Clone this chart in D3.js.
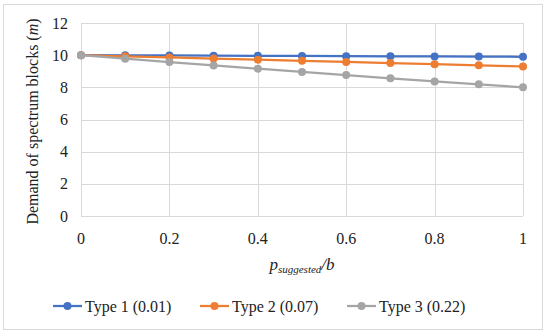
<!DOCTYPE html>
<html lang="en">
<head>
<meta charset="utf-8">
<script src="https://d3js.org/d3.v7.min.js"></script>
<style>
body { margin: 0; background: #fff; }
</style>
</head>
<body>
<div id="chart"></div>
<script>
// data
var xValues = [0, 0.1, 0.2, 0.3, 0.4, 0.5, 0.6, 0.7, 0.8, 0.9, 1];
var type1 = [10, 9.99, 9.98, 9.97, 9.96, 9.95, 9.94, 9.93, 9.92, 9.91, 9.9];
var type2 = [10, 9.93, 9.86, 9.79, 9.72, 9.65, 9.58, 9.51, 9.44, 9.37, 9.3];
var type3 = [10, 9.78, 9.57, 9.36, 9.16, 8.96, 8.76, 8.56, 8.37, 8.19, 8.0];
var seriesNames = ["Type 1 (0.01)", "Type 2 (0.07)", "Type 3 (0.22)"];
var colors = ["#4472C4", "#ED7D31", "#A5A5A5"];
var xTicks = [0, 0.2, 0.4, 0.6, 0.8, 1];
var yTicks = [0, 2, 4, 6, 8, 10, 12];

var width = 550, height = 333;
var serif = "'Liberation Serif', serif";

var svg = d3.select("#chart").append("svg")
  .attr("width", width)
  .attr("height", height);

// chart border
svg.append("rect")
  .attr("x", 3.5).attr("y", 4.5)
  .attr("width", 539).attr("height", 325)
  .attr("fill", "#fff")
  .attr("stroke", "#d9d9d9");

var x = d3.scaleLinear().domain([0, 1]).range([81, 523]);
var y = d3.scaleLinear().domain([0, 12]).range([216, 23]);

// gridlines
svg.append("g").selectAll("line").data(yTicks).enter().append("line")
  .attr("x1", x(0)).attr("x2", x(1))
  .attr("y1", function(d) { return Math.round(y(d)) + 0.5; })
  .attr("y2", function(d) { return Math.round(y(d)) + 0.5; })
  .attr("stroke", "#d9d9d9");

svg.append("g").selectAll("line").data(xTicks).enter().append("line")
  .attr("y1", y(0)).attr("y2", y(12))
  .attr("x1", function(d) { return Math.round(x(d)) + 0.5; })
  .attr("x2", function(d) { return Math.round(x(d)) + 0.5; })
  .attr("stroke", "#d9d9d9");

function txt(sel, size) {
  return sel.attr("fill", "#222")
    .style("font-family", serif, "important")
    .style("font-size", size + "px", "important");
}

// tick labels
txt(svg.append("g").selectAll("text").data(yTicks).enter().append("text")
  .attr("x", 68).attr("y", function(d) { return y(d) + 5.5; })
  .attr("text-anchor", "end"), 16)
  .text(function(d) { return d; });

txt(svg.append("g").selectAll("text").data(xTicks).enter().append("text")
  .attr("x", function(d) { return x(d); }).attr("y", 244)
  .attr("text-anchor", "middle"), 16)
  .text(function(d) { return d; });

// axis titles
var yt = txt(svg.append("text")
  .attr("transform", "translate(38," + (y(6) + 2) + ") rotate(-90)")
  .attr("text-anchor", "middle"), 16);
yt.append("tspan").text("Demand of spectrum blocks (");
yt.append("tspan").style("font-style", "italic").text("m");
yt.append("tspan").text(")");

var xt = txt(svg.append("text")
  .attr("x", 302).attr("y", 270)
  .attr("text-anchor", "middle"), 17)
  .style("font-style", "italic");
xt.append("tspan").text("p");
xt.append("tspan").attr("dy", 3).style("font-size", "11px", "important").text("suggested");
xt.append("tspan").attr("dy", -3).text("/b");

// series
var allSeries = [type1, type2, type3];
var line = d3.line()
  .x(function(d, i) { return x(xValues[i]); })
  .y(function(d) { return y(d); });

allSeries.forEach(function(s, k) {
  svg.append("path")
    .datum(s)
    .attr("d", line)
    .attr("fill", "none")
    .attr("stroke", colors[k])
    .attr("stroke-width", 2.25);
  svg.append("g").selectAll("circle").data(s).enter().append("circle")
    .attr("cx", function(d, i) { return x(xValues[i]); })
    .attr("cy", function(d) { return y(d); })
    .attr("r", 4)
    .attr("fill", colors[k]);
});

// legend
var legendX = [53, 200, 347];
var legendY = 306;
seriesNames.forEach(function(name, k) {
  var g = svg.append("g").attr("transform", "translate(" + legendX[k] + "," + legendY + ")");
  g.append("line").attr("x1", 0).attr("x2", 29).attr("y1", 0).attr("y2", 0)
    .attr("stroke", colors[k]).attr("stroke-width", 2.25);
  g.append("circle").attr("cx", 14.5).attr("cy", 0).attr("r", 4).attr("fill", colors[k]);
  txt(g.append("text").attr("x", 32).attr("y", 5.5), 16)
    .text(name);
});
</script>
</body>
</html>
